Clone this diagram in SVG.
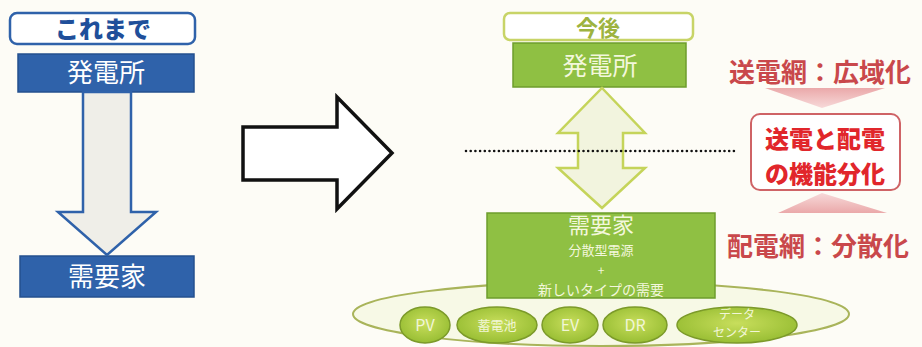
<svg xmlns="http://www.w3.org/2000/svg" width="922" height="347" viewBox="0 0 922 347">
<defs>
<style>
.jp{font-family:"Noto Sans CJK JP","Noto Sans",sans-serif;}
.blueBox{fill:#2f62aa;stroke:#24508f;stroke-width:1.5;}
.greenBox{fill:#8fc043;stroke:#6e9d2c;stroke-width:1.5;}
.wt{fill:#ffffff;text-anchor:middle;}
.gt{fill:#f3f7dc;text-anchor:middle;}
.red{fill:#c9484b;text-anchor:middle;font-weight:700;}
.pill{fill:url(#pillGrad);stroke:#7c9a2a;stroke-width:1.5;}
.pt{fill:#f1f6d6;text-anchor:middle;}
</style>
<radialGradient id="pillGrad" cx="0.5" cy="0.45" r="0.6">
<stop offset="0" stop-color="#c8de5c"/>
<stop offset="1" stop-color="#94bb30"/>
</radialGradient>
<linearGradient id="pinkDown" x1="0" y1="0" x2="0" y2="1">
<stop offset="0" stop-color="#e79a9c"/>
<stop offset="1" stop-color="#f6d3d4"/>
</linearGradient>
<linearGradient id="pinkUp" x1="0" y1="1" x2="0" y2="0">
<stop offset="0" stop-color="#e79a9c"/>
<stop offset="1" stop-color="#f6d3d4"/>
</linearGradient>
</defs>
<rect width="922" height="347" fill="#fdfcf6"/>

<g id="left-title">
<rect x="10" y="13" width="185" height="31" rx="7" fill="#ffffff" stroke="#2f62aa" stroke-width="2.5"/>
<text class="jp" x="103" y="38" font-size="24" font-weight="900" fill="#1f4f9a" text-anchor="middle">これまで</text>
</g>
<g id="left-plant">
<rect class="blueBox" x="18" y="54" width="176" height="38"/>
<text class="jp wt" x="106" y="82" font-size="26">発電所</text>
</g>
<g id="left-consumer">
<rect class="blueBox" x="20" y="256" width="174" height="41"/>
<text class="jp wt" x="107" y="286" font-size="26">需要家</text>
</g>

<g id="right-title">
<rect x="504" y="13" width="189" height="27" rx="6" fill="#ffffff" stroke="#c8d467" stroke-width="2.5"/>
<text class="jp" x="598" y="36" font-size="22" font-weight="700" fill="#9db33f" text-anchor="middle">今後</text>
</g>
<g id="right-plant">
<rect class="greenBox" x="513" y="43" width="173" height="44"/>
<text class="jp gt" x="600" y="75" font-size="25">発電所</text>
</g>

<g id="customer-area">
<ellipse cx="601" cy="314" rx="248" ry="32" fill="#f7f9e6" stroke="#a9b45a" stroke-width="2"/>
</g>
<g id="right-consumer">
<rect class="greenBox" x="487" y="213" width="228" height="85"/>
<text class="jp gt" x="601" y="233" font-size="22">需要家</text>
<text class="jp gt" x="601" y="255" font-size="13">分散型電源</text>
<text class="jp gt" x="601" y="275" font-size="12">+</text>
<text class="jp gt" x="601" y="295" font-size="14">新しいタイプの需要</text>
</g>
<g id="pv"><ellipse class="pill" cx="425" cy="325" rx="25" ry="18"/><text class="jp pt" x="425" y="331" font-size="16">PV</text></g>
<g id="battery"><ellipse class="pill" cx="497" cy="325" rx="40" ry="18"/><text class="jp pt" x="497" y="330" font-size="13">蓄電池</text></g>
<g id="ev"><ellipse class="pill" cx="570" cy="325" rx="28" ry="18"/><text class="jp pt" x="570" y="331" font-size="16">EV</text></g>
<g id="dr"><ellipse class="pill" cx="635" cy="325" rx="32" ry="18"/><text class="jp pt" x="635" y="331" font-size="16">DR</text></g>
<g id="datacenter"><ellipse class="pill" cx="737" cy="325" rx="60" ry="18"/>
<text class="jp pt" x="737" y="319" font-size="12">データ</text>
<text class="jp pt" x="737" y="337" font-size="12">センター</text></g>

<g id="connectors">
<path d="M83,92 L131,92 L131,212 L156,212 L107,255 L58,212 L83,212 Z" fill="#efeee8" stroke="#2f62aa" stroke-width="2.5" stroke-linejoin="miter"/>
<path d="M243,127 L337,127 L337,97 L392,153 L337,209 L337,180 L243,180 Z" fill="#ffffff" stroke="#111111" stroke-width="3.5" stroke-linejoin="miter"/>
<path d="M602,88 L645,133 L623,133 L623,168 L645,168 L602,208 L558,168 L578,168 L578,133 L558,133 Z" fill="#f2f4de" stroke="#c5d45a" stroke-width="2.5"/>
<line x1="466" y1="151" x2="736" y2="151" stroke="#111111" stroke-width="2.6" stroke-linecap="round" stroke-dasharray="0 4.7"/>
<polygon points="765,88 885,88 822,108" fill="url(#pinkDown)" opacity="0.85"/>
<polygon points="822,193 887,213 778,213" fill="url(#pinkUp)" opacity="0.85"/>
</g>

<g id="transmission-label">
<text class="jp red" x="820" y="82" font-size="26">送電網：広域化</text>
</g>
<g id="separation">
<rect x="751" y="114" width="149" height="76" rx="9" fill="#ffffff" stroke="#cf6366" stroke-width="2"/>
<text class="jp" x="825" y="148" font-size="24" font-weight="900" fill="#e1262b" text-anchor="middle">送電と配電</text>
<text class="jp" x="825" y="183" font-size="24" font-weight="900" fill="#e1262b" text-anchor="middle">の機能分化</text>
</g>
<g id="distribution-label">
<text class="jp red" x="818" y="256" font-size="26">配電網：分散化</text>
</g>
</svg>
